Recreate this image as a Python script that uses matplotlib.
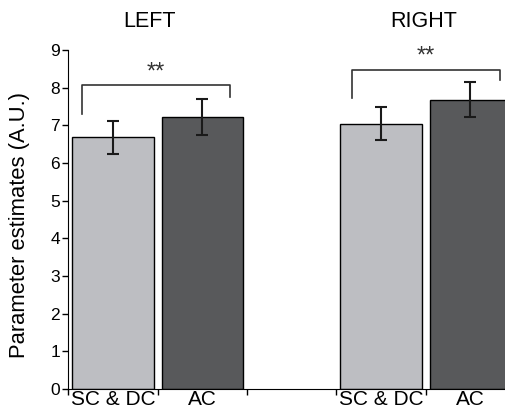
import matplotlib.pyplot as plt

plt.rcParams['font.family'] = ['Liberation Sans', 'DejaVu Sans']

groups = ['LEFT', 'RIGHT']
conditions = ['SC & DC', 'AC']
means = [6.68, 7.23, 7.04, 7.68]
errors = [0.43, 0.48, 0.44, 0.47]
colors = ['#bdbec2', '#58595b', '#bdbec2', '#58595b']
positions = [0.5, 1.5, 3.5, 4.5]

fig = plt.figure(figsize=(5.06, 4.16), dpi=100)
ax = fig.add_axes([0.135, 0.065, 0.865, 0.815])

ax.bar(positions, means, width=0.91, color=colors, edgecolor='black', linewidth=1)
ax.errorbar(positions, means, yerr=errors, fmt='none', ecolor='#1a1a1a',
            elinewidth=1.5, capsize=4, capthick=1.5)

# significance brackets
brackets = [(0.153, 1.806, 7.31, 7.75, 8.08), (3.18, 4.83, 7.73, 8.2, 8.48)]
for x0, x1, y0, y1, top in brackets:
    ax.plot([x0, x0, x1, x1], [y0, top, top, y1], color='#333333', lw=1.2, clip_on=False)
    ax.text((x0 + x1) / 2, top + 0.04, '**', ha='center', va='bottom', fontsize=17, color='#333333')

ax.text(0.91, 9.61, groups[0], ha='center', va='baseline', fontsize=15.5)
ax.text(3.98, 9.61, groups[1], ha='center', va='baseline', fontsize=15.5)

ax.set_xlim(0, 4.9)
ax.set_ylim(0, 9)
ax.set_yticks(range(10))
ax.set_xticks([0, 1, 2, 3, 4])
ax.set_xticklabels([])
ax.set_xticks(positions, minor=True)
ax.set_xticklabels(conditions * 2, minor=True, fontsize=15)
ax.tick_params(axis='x', which='minor', length=0, pad=1)
ax.tick_params(axis='x', which='major', length=4, width=1)
ax.tick_params(axis='y', labelsize=12.5, length=4, width=1, pad=2)
ax.set_ylabel('Parameter estimates (A.U.)', fontsize=15.8)
ax.yaxis.set_label_coords(-0.088, 0.484)

for s in ['top', 'right']:
    ax.spines[s].set_visible(False)

plt.savefig('out.png', dpi=100)
